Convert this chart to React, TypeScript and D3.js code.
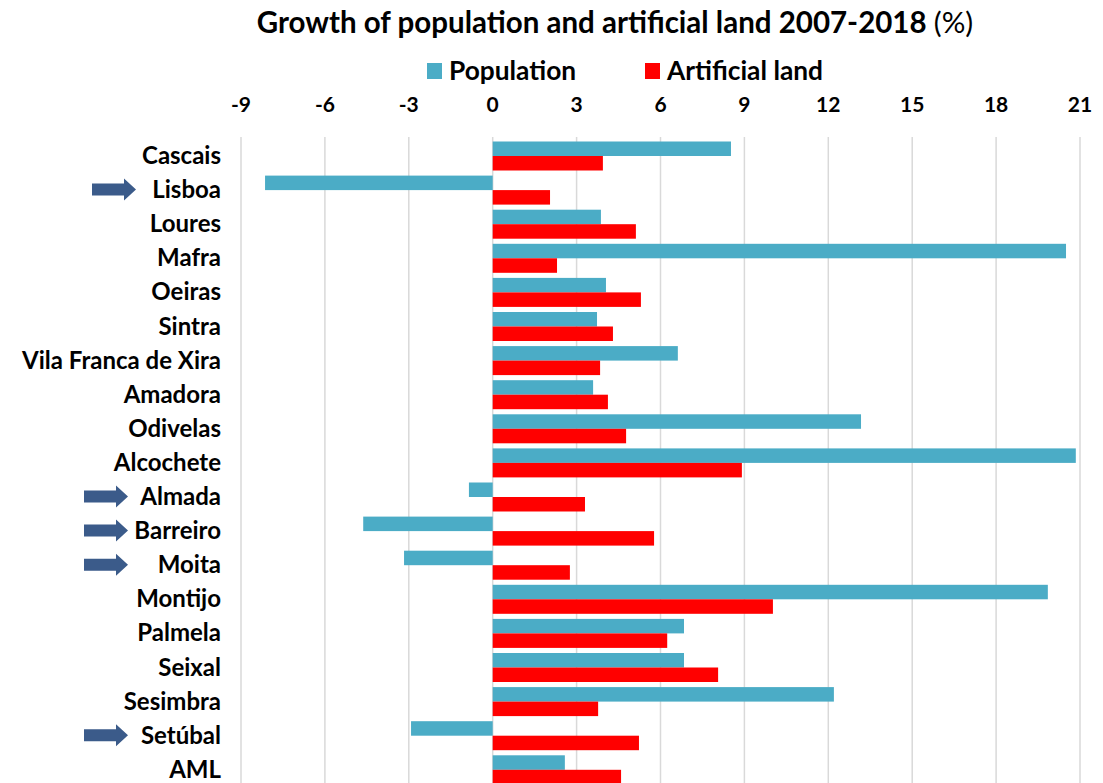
import React from "react";
import * as d3 from "d3";

const categories = [
  "Cascais", "Lisboa", "Loures", "Mafra", "Oeiras", "Sintra", "Vila Franca de Xira",
  "Amadora", "Odivelas", "Alcochete", "Almada", "Barreiro", "Moita", "Montijo",
  "Palmela", "Seixal", "Sesimbra", "Setúbal", "AML",
];
const population = [8.52, -8.14, 3.87, 20.5, 4.05, 3.73, 6.62, 3.59, 13.17, 20.85, -0.85, -4.63, -3.17, 19.85, 6.84, 6.84, 12.2, -2.92, 2.58];
const artificialLand = [3.94, 2.05, 5.12, 2.3, 5.3, 4.3, 3.84, 4.12, 4.77, 8.91, 3.3, 5.77, 2.76, 10.02, 6.24, 8.06, 3.77, 5.23, 4.59];
const tickValues = [-9, -6, -3, 0, 3, 6, 9, 12, 15, 18, 21];
const arrowed = ["Lisboa", "Almada", "Barreiro", "Moita", "Setúbal"];
const seriesNames = ["Population", "Artificial land"];
const seriesColors = ["#4BACC6", "#FF0000"];

const W = 1103;
const H = 783;
const FONT = "Lato, 'Open Sans', sans-serif";

export default function App() {
  const x = d3.scaleLinear().domain([-9, 21]).range([241, 1080]);
  const y = d3.scaleBand<string>().domain(categories).range([138, 138 + 19 * 34.1]);
  const sub = d3.scaleBand<number>().domain([0, 1]).range([3.5, 32.5]);
  const series = [population, artificialLand];

  return (
    <svg width={W} height={H} style={{ position: "absolute", left: 0, top: 0, background: "#fff" }} fontFamily={FONT}>
      <text x={615} y={33} textAnchor="middle" fontSize={29.5} fontWeight={700} fill="#000">
        Growth of population and artificial land 2007-2018 <tspan fontWeight={400}>(%)</tspan>
      </text>
      {/* legend */}
      <g>
        <rect x={427} y={63} width={15} height={16} fill={seriesColors[0]} />
        <text x={449} y={80} fontSize={26.3} fontWeight={700}>{seriesNames[0]}</text>
        <rect x={645} y={63} width={15} height={16} fill={seriesColors[1]} />
        <text x={667} y={80} fontSize={26.3} fontWeight={700}>{seriesNames[1]}</text>
      </g>
      {/* gridlines & ticks */}
      {tickValues.map((t) => (
        <g key={t}>
          <line x1={x(t)} x2={x(t)} y1={137} y2={H} stroke="#D9D9D9" strokeWidth={1.5} />
          <text x={x(t)} y={111.5} textAnchor="middle" fontSize={21} fontWeight={700}>{t}</text>
        </g>
      ))}
      {/* bars */}
      {categories.map((c, i) => (
        <g key={c} transform={`translate(0,${y(c)})`}>
          {series.map((s, k) => (
            <rect
              key={k}
              x={Math.min(x(0), x(s[i]))}
              width={Math.abs(x(s[i]) - x(0))}
              y={sub(k)}
              height={sub.bandwidth()}
              fill={seriesColors[k]}
            />
          ))}
          <text x={221} y={26} textAnchor="end" fontSize={24} fontWeight={700}>{c}</text>
        </g>
      ))}
      {/* arrows */}
      {categories.map((c) => {
        if (!arrowed.includes(c)) return null;
        const cy = (y(c) as number) + 17.5;
        const x0 = c === "Lisboa" ? 92 : 84;
        const pts = [
          [x0, cy - 6], [x0 + 32, cy - 6], [x0 + 32, cy - 11], [x0 + 44, cy],
          [x0 + 32, cy + 11], [x0 + 32, cy + 6], [x0, cy + 6],
        ];
        return <polygon key={"a" + c} points={pts.map((p) => p.join(",")).join(" ")} fill="#3B5B8A" />;
      })}
    </svg>
  );
}
